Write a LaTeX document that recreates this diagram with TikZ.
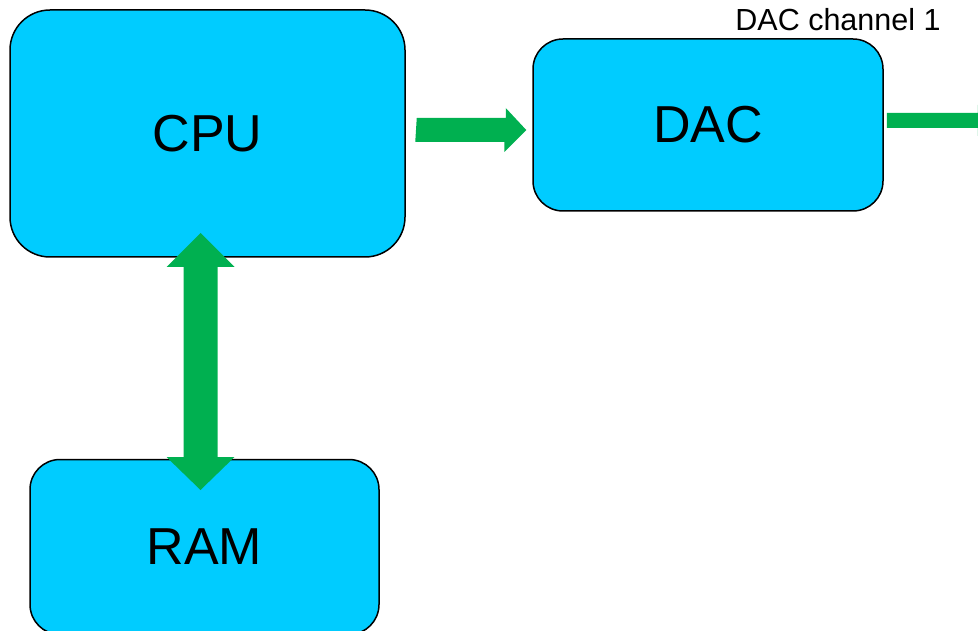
\documentclass[tikz,border=0pt]{standalone}
\usepackage{fontspec}
\setmainfont{Liberation Sans}
\definecolor{boxcyan}{HTML}{00CCFF}
\definecolor{arrgreen}{HTML}{00B050}
\begin{document}
\begin{tikzpicture}[x=1pt,y=-1pt,
  blk/.style={draw=black,line width=1.5pt,fill=boxcyan,rounded corners=#1,inner sep=0pt,font=\fontsize{52}{60}\selectfont},
  garrow/.style={fill=arrgreen,draw=none}]
\useasboundingbox (0,0) rectangle (978,631);
\node[blk=40pt,minimum width=395pt,minimum height=247pt] (cpu) at (207.5,133.5) {CPU};
\node[blk=30pt,minimum width=350pt,minimum height=172pt] (dac) at (708,125) {DAC};
\node[blk=30pt,minimum width=349pt,minimum height=175pt] (ram) at (204.5,547) {RAM};
\node[font=\fontsize{30.5}{36}\selectfont,anchor=base] (lbl) at (838,31) {DAC channel 1};
% CPU -> DAC arrow
\coordinate (a1) at ([xshift=11pt]cpu.east |- 0,130);
\coordinate (a2) at ([xshift=-6pt]dac.west |- 0,130);
\fill[garrow] (a1) ++(0,-12) -- ++(89,0) -- ++(0,-10) -- (a2) -- ++(-22,22) -- ++(0,-10) -- ++(-89,0) -- cycle;
% DAC output arrow
\coordinate (b1) at ([xshift=3pt]dac.east |- 0,120.5);
\begin{scope}
\clip (0,0) rectangle (978,631);
\fill[garrow] (b1) ++(0,-7.5) -- ++(91,0) -- ++(0,-8) -- ++(16,15.5) -- ++(-16,15.5) -- ++(0,-8) -- ++(-91,0) -- cycle;
\end{scope}
% CPU <-> RAM double arrow
\coordinate (c1) at (200.5,233);
\coordinate (c2) at (200.5,490);
\fill[garrow] (c1) -- ++(34,34) -- ++(-17,0) -- ++(0,190) -- ++(17,0) -- (c2) -- ++(-34,-33) -- ++(17,0) -- ++(0,-190) -- ++(-17,0) -- cycle;
\end{tikzpicture}
\end{document}
